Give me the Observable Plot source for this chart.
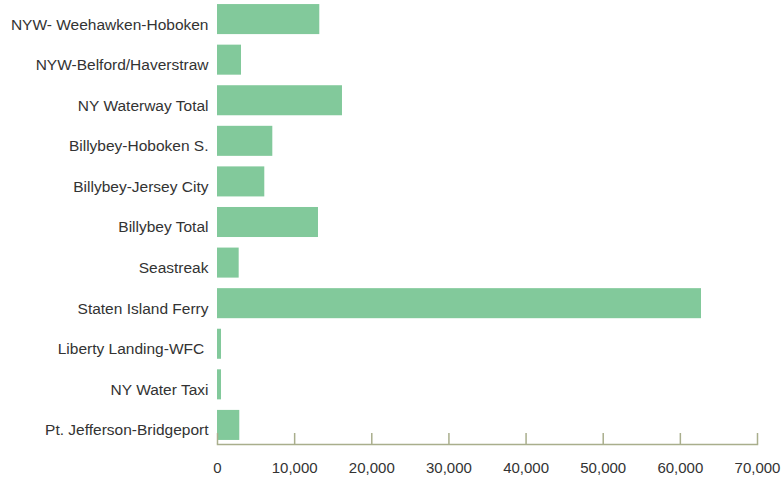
<!DOCTYPE html>
<html><head><meta charset="utf-8">
<script src="https://cdn.jsdelivr.net/npm/d3@7"></script>
<script src="https://cdn.jsdelivr.net/npm/@observablehq/plot@0.6"></script>
<style>body{margin:0;background:#fff}</style>
</head><body><div id="chart"></div>
<script>
const routes = [
  "NYW- Weehawken-Hoboken",
  "NYW-Belford/Haverstraw",
  "NY Waterway Total",
  "Billybey-Hoboken S.",
  "Billybey-Jersey City",
  "Billybey Total",
  "Seastreak",
  "Staten Island Ferry",
  "Liberty Landing-WFC\u00a0",
  "NY Water Taxi",
  "Pt. Jefferson-Bridgeport"
];
const ridership = [13260, 3110, 16200, 7170, 6130, 13090, 2810, 62740, 520, 520, 2890];
const xTicks = [0, 10000, 20000, 30000, 40000, 50000, 60000, 70000];

const data = routes.map((r, i) => ({route: r, value: ridership[i]}));
const fmt = d3.format(",");

const chart = Plot.plot({
  width: 782,
  height: 478,
  marginLeft: 217,
  marginRight: 25,
  marginTop: 0,
  marginBottom: 34,
  style: {fontFamily: "'Liberation Sans', Arial, sans-serif", fontSize: "15px", color: "#333", background: "#fff"},
  x: {domain: [0, 70000], ticks: xTicks},
  y: {domain: routes, paddingInner: 0.26, paddingOuter: 0.1, round: false},
  marks: [
    Plot.barX(data, {x: "value", y: "route", fill: "#82c99b"}),
    Plot.frame({anchor: "bottom", stroke: "#a9ae8c", strokeWidth: 1.5}),
    Plot.axisX({ticks: xTicks, tickSize: -11, stroke: "#a9ae8c", strokeWidth: 1.5, text: null, label: null}),
    Plot.axisX({ticks: xTicks, tickSize: 0, tickPadding: 18, tickFormat: fmt, label: null, fill: "#333", fontSize: 15}),
    Plot.axisY({tickSize: 0, tickPadding: 9, dy: 5, label: null, fill: "#333", fontSize: 15.5})
  ]
});
document.getElementById("chart").appendChild(chart);
</script>
</body></html>
